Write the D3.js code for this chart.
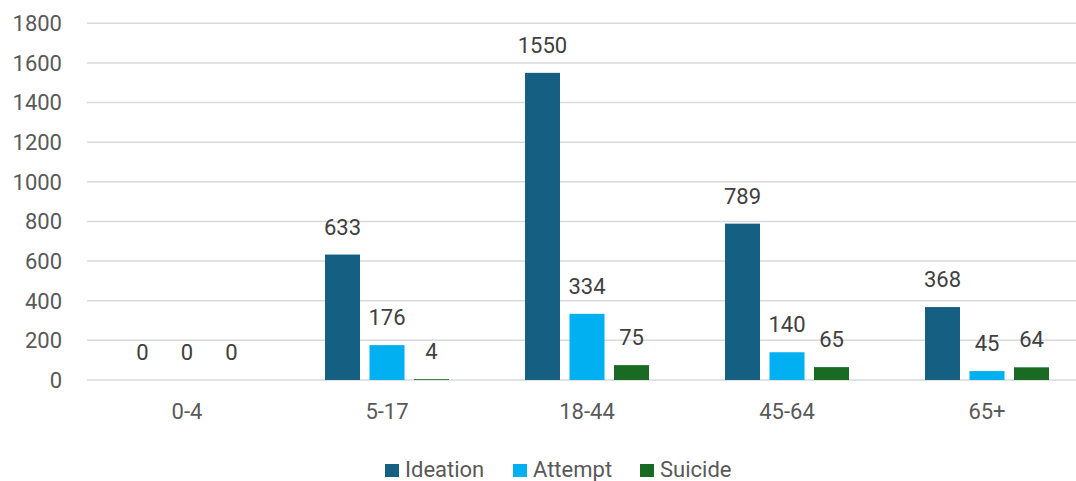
<!DOCTYPE html>
<html>
<head>
<meta charset="utf-8">
<script src="https://cdn.jsdelivr.net/npm/d3@7"></script>
<style>
  body { margin: 0; background: #fff; }
  svg { display: block; font-family: Roboto, "Liberation Sans", sans-serif; }
</style>
</head>
<body>
<svg id="chart" width="1076" height="481"></svg>
<script>
var categories = ["0-4", "5-17", "18-44", "45-64", "65+"];
var seriesNames = ["Ideation", "Attempt", "Suicide"];
var ideation = [0, 633, 1550, 789, 368];
var attempt = [0, 176, 334, 140, 45];
var suicide = [0, 4, 75, 65, 64];
var yTicks = [0, 200, 400, 600, 800, 1000, 1200, 1400, 1600, 1800];
var colors = ["#156082", "#00B0F0", "#196B24"];

var svg = d3.select("#chart");
var width = 1076;

var x0 = d3.scaleBand().domain(categories).range([87, 1087]);
var x1 = d3.scaleBand().domain(seriesNames).range([38, 162]).paddingInner(0.2135);
var y = d3.scaleLinear().domain([0, 1800]).range([380, 23.3]);

// gridlines
svg.append("g").selectAll("line").data(yTicks).enter().append("line")
    .attr("x1", 87).attr("x2", width)
    .attr("y1", function (d) { return y(d); })
    .attr("y2", function (d) { return y(d); })
    .attr("stroke", "#d9d9d9").attr("stroke-width", 1.5);

// y axis labels
svg.append("g").selectAll("text").data(yTicks).enter().append("text")
    .attr("x", 62).attr("y", function (d) { return y(d); })
    .attr("dy", "0.36em")
    .attr("text-anchor", "end")
    .attr("font-size", 22)
    .attr("fill", "#595959")
    .text(function (d) { return d; });

// x axis labels
svg.append("g").selectAll("text").data(categories).enter().append("text")
    .attr("x", function (d) { return x0(d) + x0.bandwidth() / 2; })
    .attr("y", 419)
    .attr("text-anchor", "middle")
    .attr("font-size", 22)
    .attr("fill", "#595959")
    .text(function (d) { return d; });

var allSeries = [ideation, attempt, suicide];
var rows = [];
categories.forEach(function (c, i) {
    seriesNames.forEach(function (s, j) {
        rows.push({ cat: c, name: s, value: allSeries[j][i], color: colors[j] });
    });
});

var groups = svg.append("g");
groups.selectAll("rect").data(rows).enter().append("rect")
    .attr("x", function (d) { return x0(d.cat) + x1(d.name); })
    .attr("width", x1.bandwidth())
    .attr("y", function (d) { return y(d.value); })
    .attr("height", function (d) { return y(0) - y(d.value); })
    .attr("fill", function (d) { return d.color; });

groups.selectAll("text").data(rows).enter().append("text")
    .attr("x", function (d) { return x0(d.cat) + x1(d.name) + x1.bandwidth() / 2; })
    .attr("y", function (d) { return y(d.value) - 20; })
    .attr("text-anchor", "middle")
    .attr("font-size", 22)
    .attr("fill", "#404040")
    .text(function (d) { return d.value; });

// legend
var legendX = [385, 513, 640];
var legend = svg.append("g");
var items = legend.selectAll("g").data(seriesNames).enter().append("g")
    .attr("transform", function (d, i) { return "translate(" + legendX[i] + ",464)"; });
items.append("rect").attr("width", 14).attr("height", 13)
    .attr("fill", function (d, i) { return colors[i]; });
items.append("text").attr("x", 20).attr("y", 13)
    .attr("font-size", 22).attr("fill", "#595959")
    .text(function (d) { return d; });
</script>
</body>
</html>
